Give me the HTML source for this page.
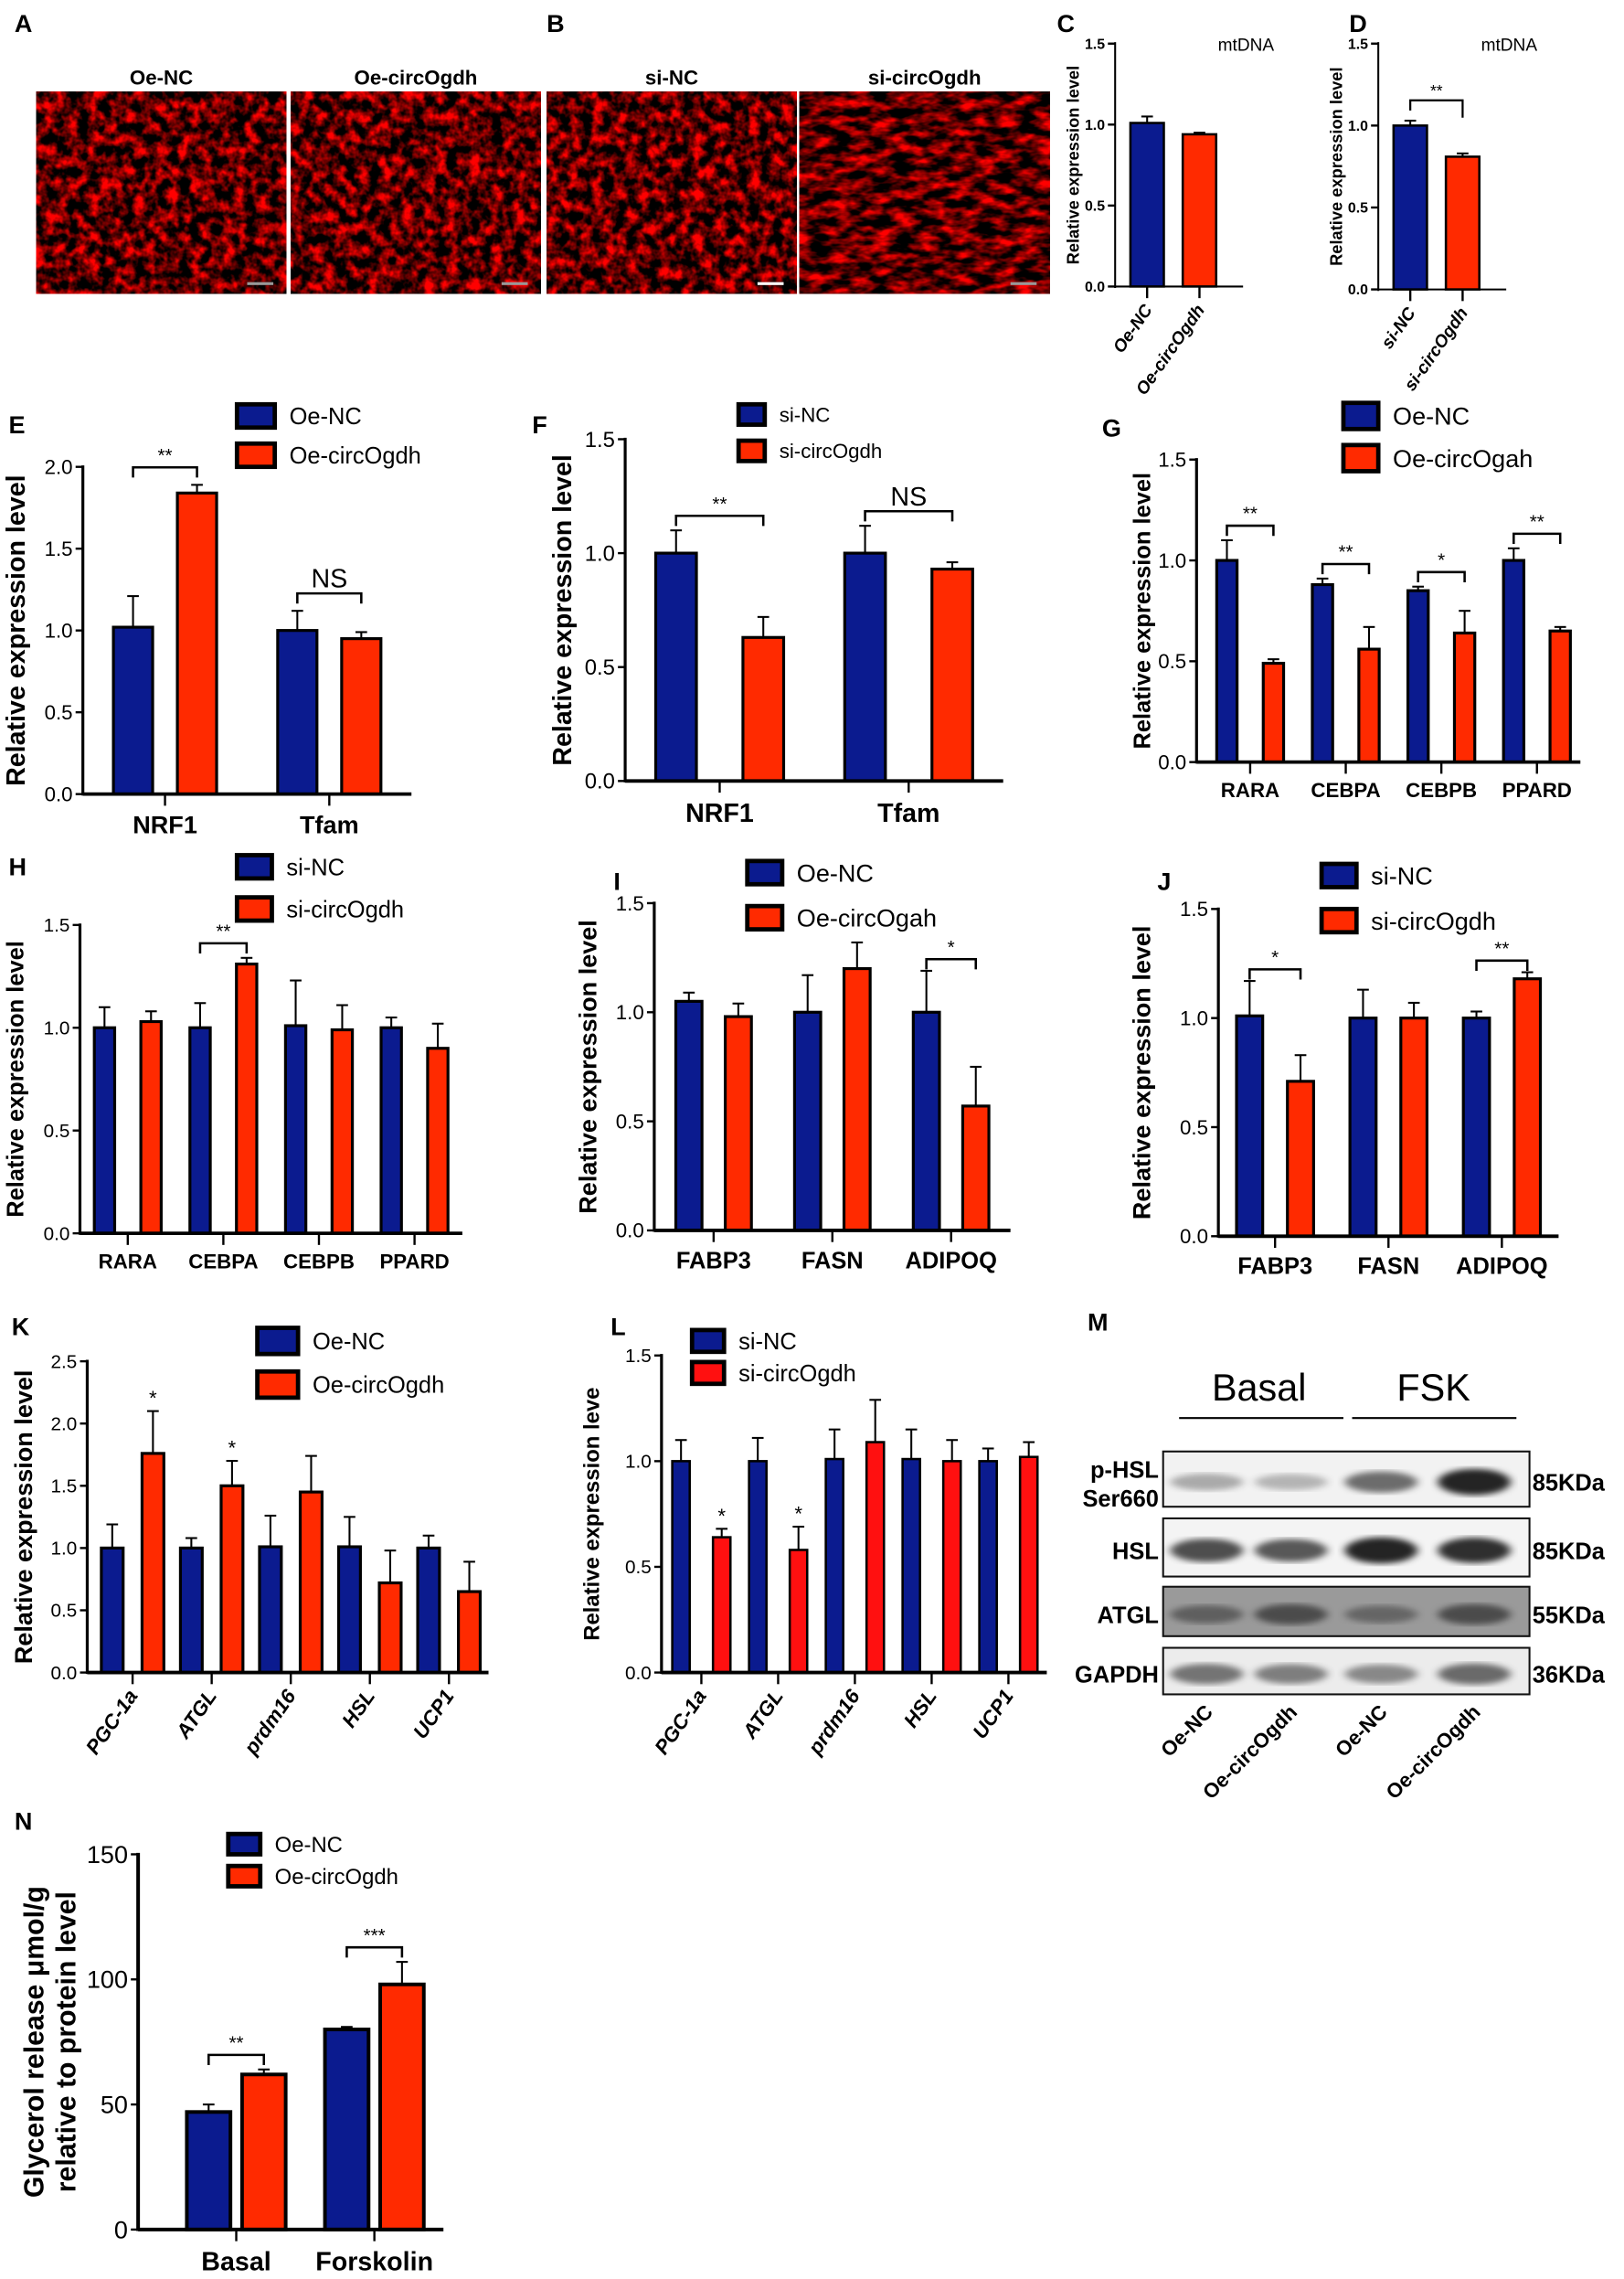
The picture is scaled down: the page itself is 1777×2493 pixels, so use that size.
<!DOCTYPE html>
<html><head><meta charset="utf-8"><style>
html,body{margin:0;padding:0;background:#fff}
svg{display:block}
text{font-family:"Liberation Sans",Arial,sans-serif}
</style></head><body>
<svg id="fig" width="1777" height="2493" viewBox="0 0 1117 1567" preserveAspectRatio="none" xmlns="http://www.w3.org/2000/svg">
<defs>
<filter id="cells" x="0" y="0" width="1" height="1" color-interpolation-filters="sRGB">
<feTurbulence type="fractalNoise" baseFrequency="0.13" numOctaves="3" seed="3"/>
<feColorMatrix type="matrix" values="2.6 0 0 0 -0.95  0 0 0 0 0  0 0 0 0 0  0 0 0 0 1"/>
</filter>
<filter id="cells2" x="0" y="0" width="1" height="1" color-interpolation-filters="sRGB">
<feTurbulence type="fractalNoise" baseFrequency="0.07 0.16" numOctaves="3" seed="9"/>
<feColorMatrix type="matrix" values="2.6 0 0 0 -0.95  0 0 0 0 0  0 0 0 0 0  0 0 0 0 1"/>
</filter>
<filter id="blur1"><feGaussianBlur stdDeviation="3 2"/></filter>
</defs>
<g id="root"></g>
</svg>
<script>
// ---- data arrays ----
const cCats=["Oe-NC","Oe-circOgdh"], cVals=[1.01,0.94], cErrs=[0.04,0.01];
const dCats=["si-NC","si-circOgdh"], dVals=[1.0,0.81], dErrs=[0.03,0.02];
const eCats=["NRF1","Tfam"], eBlue=[1.02,1.0], eBlueErr=[0.19,0.12], eRed=[1.84,0.95], eRedErr=[0.05,0.04];
const fCats=["NRF1","Tfam"], fBlue=[1.0,1.0], fBlueErr=[0.1,0.12], fRed=[0.63,0.93], fRedErr=[0.09,0.03];
const gCats=["RARA","CEBPA","CEBPB","PPARD"], gBlue=[1.0,0.88,0.85,1.0], gBlueErr=[0.1,0.03,0.02,0.06], gRed=[0.49,0.56,0.64,0.65], gRedErr=[0.02,0.11,0.11,0.02];
const hCats=["RARA","CEBPA","CEBPB","PPARD"], hBlue=[1.0,1.0,1.01,1.0], hBlueErr=[0.1,0.12,0.22,0.05], hRed=[1.03,1.31,0.99,0.9], hRedErr=[0.05,0.03,0.12,0.12];
const iCats=["FABP3","FASN","ADIPOQ"], iBlue=[1.05,1.0,1.0], iBlueErr=[0.04,0.17,0.19], iRed=[0.98,1.2,0.57], iRedErr=[0.06,0.12,0.18];
const jCats=["FABP3","FASN","ADIPOQ"], jBlue=[1.01,1.0,1.0], jBlueErr=[0.16,0.13,0.03], jRed=[0.71,1.0,1.18], jRedErr=[0.12,0.07,0.03];
const kCats=["PGC-1a","ATGL","prdm16","HSL","UCP1"], kBlue=[1.0,1.0,1.01,1.01,1.0], kBlueErr=[0.19,0.08,0.25,0.24,0.1], kRed=[1.76,1.5,1.45,0.72,0.65], kRedErr=[0.34,0.2,0.29,0.26,0.24];
const lCats=["PGC-1a","ATGL","prdm16","HSL","UCP1"], lBlue=[1.0,1.0,1.01,1.01,1.0], lBlueErr=[0.1,0.11,0.14,0.14,0.06], lRed=[0.64,0.58,1.09,1.0,1.02], lRedErr=[0.04,0.11,0.2,0.1,0.07];
const nCats=["Basal","Forskolin"], nBlue=[47,80], nBlueErr=[3,1], nRed=[62,98], nRedErr=[2,9];
const axisTicks15=["0.0","0.5","1.0","1.5"], axisTicks20=["0.0","0.5","1.0","1.5","2.0"], axisTicks25=["0.0","0.5","1.0","1.5","2.0","2.5"], nTicks=["0","50","100","150"];

const NS="http://www.w3.org/2000/svg";
const root=document.getElementById('root');
const BLUE="#0b1b8f", RED="#ff2a00", RED2="#ff1010";
function mk(tag,attrs,parent){const e=document.createElementNS(NS,tag);for(const k in attrs)e.setAttribute(k,attrs[k]);(parent||root).appendChild(e);return e;}
function txt(s,attrs,parent){const e=mk('text',attrs,parent);e.textContent=s;return e;}

function chart(p){
  const g=mk('g',{});
  
  
  const max=p.max;
  const y=v=>p.y0-(v/max)*(p.y0-p.yTop);
  p.ticks.forEach((t,i)=>{
    const v=max*i/(p.ticks.length-1);
    const ln=mk('line',{x1:p.ax-5,x2:p.ax,y1:y(v),y2:y(v),stroke:'#000','stroke-width':1.5},g);
    
    
    const tl=txt(t,{x:p.ax-7,y:y(v)+p.tfs*0.35,'text-anchor':'end','font-size':p.tfs,'font-weight':p.tbold?'bold':'normal'},g);
    
    
  });
  const gw=(p.xEnd-p.xStart)/p.cats.length;
  const series=p.series;
  p.cats.forEach((c,ci)=>{
    const gc=p.xStart+gw*(ci+0.5);
    series.forEach((s,si)=>{
      const bx=gc+(si-(series.length-1)/2)*p.gap-p.bw/2;
      const v=s.vals[ci], e=s.errs[ci];
      const eb=mk('line',{x1:bx+p.bw/2,x2:bx+p.bw/2,y1:y(v),y2:y(v+e),stroke:'#000','stroke-width':1.3},g);
      
      
      mk('line',{x1:bx+p.bw/2-4,x2:bx+p.bw/2+4,y1:y(v+e),y2:y(v+e),stroke:'#000','stroke-width':1.3},g);
      const r=mk('rect',{x:bx,y:y(v),width:p.bw,height:p.y0-y(v),fill:s.color,stroke:'#000','stroke-width':p.sw||2},g);
      
      
    });
    mk('line',{x1:gc,x2:gc,y1:p.y0,y2:p.y0+8,stroke:'#000','stroke-width':1.5},g);
    let lab;
    if(p.rot){
      lab=txt(c,{x:gc+4,y:p.y0+16,'text-anchor':'end','font-size':p.cfs,'font-weight':'bold','font-style':p.italic?'italic':'normal',transform:`rotate(-55 ${gc+4} ${p.y0+16})`},g);
    } else {
      lab=txt(c,{x:gc,y:p.y0+p.cfs+10,'text-anchor':'middle','font-size':p.cfs,'font-weight':'bold'},g);
    }
    
    
    if(p.sig && p.sig[ci]){
      const b0=gc-(series.length-1)/2*p.gap, b1=gc+(series.length-1)/2*p.gap;
      if(p.sigStyle==='star'){
        const s=series[1];
        const st=txt(p.sig[ci],{x:b1,y:y(s.vals[ci]+s.errs[ci])-4,'text-anchor':'middle','font-size':14},g);
        
        
      } else {
        const top=Math.max(...series.map(s=>s.vals[ci]+s.errs[ci]));
        const by=y(top)-p.bOff;
        mk('path',{d:`M${b0} ${by+7}V${by}H${b1}V${by+7}`,fill:'none',stroke:'#000','stroke-width':1.6},g);
        const st=txt(p.sig[ci],{x:(b0+b1)/2,y:by-4,'text-anchor':'middle','font-size':p.sig[ci]==='NS'?p.nsfs:13},g);
        
        
      }
    }
  });
  const ya=mk('line',{x1:p.ax,x2:p.ax,y1:p.yTop-1,y2:p.y0+1,stroke:'#000','stroke-width':p.aw||2},g);
  
  
  const xa=mk('line',{x1:p.ax,x2:p.xEnd+p.xPad,y1:p.y0,y2:p.y0,stroke:'#000','stroke-width':p.aw||2.4},g);
  
  
  const my=(p.y0+p.yTop)/2+(p.tyOff||0);
  const tt=txt(p.ytitle,{x:p.tx,y:my,'text-anchor':'middle','font-size':p.yfs,'font-weight':'bold',transform:`rotate(-90 ${p.tx} ${my})`},g);
  
  
  if(p.ytitle2){
    const t2=txt(p.ytitle2,{x:p.tx+22,y:my,'text-anchor':'middle','font-size':p.yfs,'font-weight':'bold',transform:`rotate(-90 ${p.tx+22} ${my})`},g);
    
    
  }
  if(p.legend){
    p.legend.forEach((l,i)=>{
      const ly=p.ly+i*p.lstep;
      const r=mk('rect',{x:p.lx,y:ly-p.lh/2,width:p.lw,height:p.lh,fill:series[i].color,stroke:'#000','stroke-width':3},g);
      
      
      const t=txt(l,{x:p.lx+p.lw+10,y:ly+p.lfs*0.36,'font-size':p.lfs},g);
      
      
    });
  }
  return g;
}
function letter(s,x,y){const t=txt(s,{x:x,y:y,'font-size':17,'font-weight':'bold'});}

// ---- images A/B ----
[[25,"Oe-NC",'cells'],[200,"Oe-circOgdh",'cells'],[376,"si-NC",'cells'],[550,"si-circOgdh",'cells2']].forEach((d,i)=>{
  mk('rect',{x:d[0],y:63,width:172,height:139,fill:'#000'});
  const r=mk('rect',{x:d[0],y:63,width:172,height:139,filter:'url(#'+d[2]+')'});
  
  
  mk('rect',{x:d[0]+145,y:194,width:18,height:2,fill:i==2?'#fff':'#999'});
  const t=txt(d[1],{x:d[0]+86,y:58,'text-anchor':'middle','font-size':14,'font-weight':'bold'});
  
  
});
letter("A",10,22);letter("B",376,22);letter("C",727,22);letter("D",928,22);

function cd(name,cats,vals,errs,ax,y0,sig){
  const g=chart({name:name,cats:cats,series:[{key:'v',vals:vals,errs:errs,color:BLUE}],max:1.5,ax:ax,y0:y0,yTop:30,xStart:ax+4,xEnd:ax+76,xPad:12,bw:23,gap:0,ticks:axisTicks15,tfs:10,tbold:true,cfs:12,rot:true,italic:true,ytitle:"Relative expression level",tx:ax-25,yfs:11.5,aw:1.3,sw:1.6});
  const rects=g.querySelectorAll('rect');
  rects[1].setAttribute('fill',RED);
  const t=txt("mtDNA",{x:ax+90,y:35,'text-anchor':'middle','font-size':12});
  
  
  if(sig){
    const y=v=>y0-(v/1.5)*(y0-30);
    const x0=ax+4+18,x1=ax+4+54,by=y(Math.max(vals[0]+errs[0],vals[1]+errs[1]))-14;
    mk('path',{d:`M${x0} ${by+7}V${by}H${x1}V${by+12}`,fill:'none',stroke:'#000','stroke-width':1.4});
    txt(sig,{x:(x0+x1)/2,y:by-3,'text-anchor':'middle','font-size':11});
  }
}
cd('chart-c-mtdna',cCats,cVals,cErrs,767,197,null);
cd('chart-d-mtdna',dCats,dVals,dErrs,948,199,'**');

const RE="Relative expression level";
letter("E",6,298);
chart({name:'chart-e',cats:eCats,series:[{key:'oe-nc',vals:eBlue,errs:eBlueErr,color:BLUE},{key:'oe-circ',vals:eRed,errs:eRedErr,color:RED}],max:2.0,ax:57,y0:546,yTop:321,xStart:57,xEnd:283,xPad:0,bw:27,gap:44,ticks:axisTicks20,tfs:14,cfs:17,ytitle:RE,tx:17,yfs:18,sig:['**','NS'],bOff:12,nsfs:18,legend:["Oe-NC","Oe-circOgdh"],lx:163,ly:286,lstep:27,lw:26,lh:16,lfs:16});
letter("F",366,298);
chart({name:'chart-f',cats:fCats,series:[{key:'si-nc',vals:fBlue,errs:fBlueErr,color:BLUE},{key:'si-circ',vals:fRed,errs:fRedErr,color:RED}],max:1.5,ax:430,y0:537,yTop:302,xStart:430,xEnd:690,xPad:0,bw:28,gap:60,ticks:axisTicks15,tfs:15,cfs:18,ytitle:RE,tx:393,yfs:18,sig:['**','NS'],bOff:10,nsfs:18,legend:["si-NC","si-circOgdh"],lx:508,ly:285,lstep:25,lw:18,lh:14,lfs:14});
letter("G",758,300);
chart({name:'chart-g',cats:gCats,series:[{key:'oe-nc',vals:gBlue,errs:gBlueErr,color:BLUE},{key:'oe-circ',vals:gRed,errs:gRedErr,color:RED}],max:1.5,ax:823,y0:524,yTop:316,xStart:827,xEnd:1090,xPad:-3,bw:14,gap:32,ticks:axisTicks15,tfs:14,cfs:14,ytitle:RE,tx:791,yfs:16,sig:['**','**','*','**'],bOff:10,nsfs:16,legend:["Oe-NC","Oe-circOgah"],lx:924,ly:286,lstep:29,lw:24,lh:18,lfs:17});
letter("H",6,602);
chart({name:'chart-h',cats:hCats,series:[{key:'si-nc',vals:hBlue,errs:hBlueErr,color:BLUE},{key:'si-circ',vals:hRed,errs:hRedErr,color:RED}],max:1.5,ax:55,y0:848,yTop:636,xStart:55,xEnd:318,xPad:0,bw:14,gap:32,ticks:axisTicks15,tfs:13,cfs:14,ytitle:RE,tx:16,yfs:16,sig:[null,'**',null,null],bOff:10,nsfs:16,legend:["si-NC","si-circOgdh"],lx:163,ly:596,lstep:29,lw:24,lh:16,lfs:16});
letter("I",422,612);
chart({name:'chart-i',cats:iCats,series:[{key:'oe-nc',vals:iBlue,errs:iBlueErr,color:BLUE},{key:'oe-circ',vals:iRed,errs:iRedErr,color:RED}],max:1.5,ax:450,y0:846,yTop:621,xStart:450,xEnd:695,xPad:0,bw:18,gap:34,ticks:axisTicks15,tfs:14,cfs:16,ytitle:RE,tx:410,yfs:17,sig:[null,null,'*'],bOff:8,nsfs:16,legend:["Oe-NC","Oe-circOgah"],lx:514,ly:600,lstep:31,lw:24,lh:16,lfs:17});
letter("J",796,612);
chart({name:'chart-j',cats:jCats,series:[{key:'si-nc',vals:jBlue,errs:jBlueErr,color:BLUE},{key:'si-circ',vals:jRed,errs:jRedErr,color:RED}],max:1.5,ax:838,y0:850,yTop:625,xStart:838,xEnd:1072,xPad:0,bw:18,gap:35,ticks:axisTicks15,tfs:14,cfs:16,ytitle:RE,tx:791,yfs:17,sig:['*',null,'**'],bOff:8,nsfs:16,legend:["si-NC","si-circOgdh"],lx:909,ly:602,lstep:31,lw:24,lh:16,lfs:17});
letter("K",8,918);
chart({name:'chart-k',cats:kCats,series:[{key:'oe-nc',vals:kBlue,errs:kBlueErr,color:BLUE},{key:'oe-circ',vals:kRed,errs:kRedErr,color:RED}],max:2.5,ax:60,y0:1150,yTop:936,xStart:64,xEnd:336,xPad:0,bw:15,gap:28,ticks:axisTicks25,tfs:13,cfs:14,rot:true,italic:true,ytitle:RE,tx:22,yfs:17,sig:['*','*',null,null,null],sigStyle:'star',legend:["Oe-NC","Oe-circOgdh"],lx:177,ly:922,lstep:30,lw:28,lh:18,lfs:16});
letter("L",420,918);
chart({name:'chart-l',cats:lCats,series:[{key:'si-nc',vals:lBlue,errs:lBlueErr,color:BLUE},{key:'si-circ',vals:lRed,errs:lRedErr,color:RED2}],max:1.5,ax:455,y0:1150,yTop:932,xStart:456,xEnd:720,xPad:0,bw:12,gap:28,ticks:axisTicks15,tfs:13,cfs:14,rot:true,italic:true,ytitle:"Relative expression leve",tx:412,yfs:15,sig:['*','*',null,null,null],sigStyle:'star',legend:["si-NC","si-circOgdh"],lx:476,ly:922,lstep:22,lw:22,lh:15,lfs:16,sw:1.6});
letter("N",10,1258);
chart({name:'chart-n',cats:nCats,series:[{key:'oe-nc',vals:nBlue,errs:nBlueErr,color:BLUE},{key:'oe-circ',vals:nRed,errs:nRedErr,color:RED}],max:150,ax:95,y0:1533,yTop:1275,xStart:115,xEnd:305,xPad:0,bw:30,gap:38,ticks:nTicks,tfs:17,cfs:18,ytitle:"Glycerol release μmol/g",ytitle2:"relative to protein level",tx:30,yfs:19,sig:['**','***'],bOff:10,nsfs:16,legend:["Oe-NC","Oe-circOgdh"],lx:157,ly:1268,lstep:22,lw:22,lh:14,lfs:15,aw:2.5,sw:2.5});

// ---- M western blot ----
letter("M",748,915);
const bh=txt("Basal",{x:866,y:963,'text-anchor':'middle','font-size':26});


const fh=txt("FSK",{x:986,y:963,'text-anchor':'middle','font-size':26});


mk('line',{x1:811,x2:924,y1:975,y2:975,stroke:'#000','stroke-width':1.3});
mk('line',{x1:930,x2:1043,y1:975,y2:975,stroke:'#000','stroke-width':1.3});
const blotRows=[["p-HSL",998,1036,"#f2f2f2",[0.35,0.3,0.65,1.0],"85KDa"],["HSL",1044,1084,"#f4f4f4",[0.8,0.75,1.0,0.95],"85KDa"],["ATGL",1091,1125,"#9a9a9a",[0.45,0.6,0.4,0.6],"55KDa"],["GAPDH",1133,1165,"#ececec",[0.6,0.55,0.5,0.65],"36KDa"]];
const laneX=[830,888,950,1014];
blotRows.forEach(r=>{
  const g=mk('g',{});
  
  
  mk('rect',{x:800,y:r[1],width:252,height:r[2]-r[1],fill:r[3]},g);
  const cy=(r[1]+r[2])/2+2;
  r[4].forEach((v,i)=>{
    const b=mk('ellipse',{cx:laneX[i],cy:cy,rx:25,ry:4+v*5,fill:'#000','fill-opacity':v*0.85,filter:'url(#blur1)'},g);
    
    
  });
  mk('rect',{x:800,y:r[1],width:252,height:r[2]-r[1],fill:'none',stroke:'#111','stroke-width':1.3},g);
  txt(r[5],{x:1054,y:cy+6,'font-size':16,'font-weight':'bold'},g);
  if(r[0]==="p-HSL"){
    txt("p-HSL",{x:797,y:cy-3,'text-anchor':'end','font-size':16,'font-weight':'bold'},g);
    txt("Ser660",{x:797,y:cy+17,'text-anchor':'end','font-size':16,'font-weight':'bold'},g);
  } else txt(r[0],{x:797,y:cy+6,'text-anchor':'end','font-size':16,'font-weight':'bold'},g);
});
["Oe-NC","Oe-circOgdh","Oe-NC","Oe-circOgdh"].forEach((s,i)=>{
  const x=laneX[i]+5,y=1178;
  const t=txt(s,{x:x,y:y,'text-anchor':'end','font-size':14,'font-weight':'bold',transform:`rotate(-45 ${x} ${y})`});
  
  
});
</script>
</body></html>
